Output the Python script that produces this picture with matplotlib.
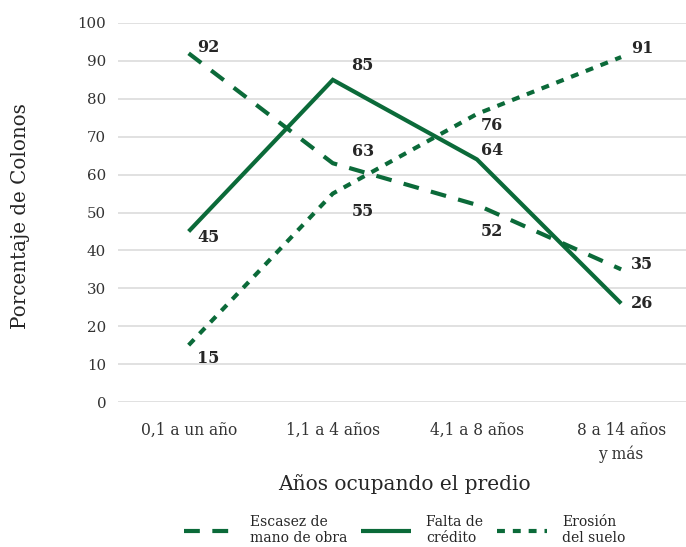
import matplotlib
matplotlib.use("Agg")
import matplotlib.pyplot as plt

# Data
categories = ["0,1 a un año", "1,1 a 4 años", "4,1 a 8 años", "8 a 14 años\ny más"]
escasez = [92, 63, 52, 35]
falta_credito = [45, 85, 64, 26]
erosion = [15, 55, 76, 91]
series_names = ["Escasez de\nmano de obra", "Falta de\ncrédito", "Erosión\ndel suelo"]
y_ticks = [0, 10, 20, 30, 40, 50, 60, 70, 80, 90, 100]

GREEN = "#0b6a39"
TEXT = "#262626"
FONT = "DejaVu Serif"

plt.rcParams["font.family"] = FONT

fig = plt.figure(figsize=(6.86, 5.47), dpi=100)
ax = fig.add_axes([118 / 686, 1 - 402 / 547, (686 - 118) / 686, (402 - 23) / 547])

x = list(range(len(categories)))
lw = 3.0
l1, = ax.plot(x, escasez, color=GREEN, lw=lw, dashes=(3.8, 3.0),
              dash_capstyle="butt", solid_joinstyle="miter", label=series_names[0])
l2, = ax.plot(x, falta_credito, color=GREEN, lw=lw, solid_capstyle="butt",
              solid_joinstyle="miter", label=series_names[1])
l3, = ax.plot(x, erosion, color=GREEN, lw=lw, dashes=(1.9, 1.9),
              dash_capstyle="butt", label=series_names[2])

# Data labels (offsets in pixels from each point)
offsets = {
    "esc": [(20, 6), (30, 12), (15, -27), (21, 5)],
    "fal": [(20, -6), (30, 14), (15, 9), (21, 0)],
    "ero": [(20, -13), (30, -18), (15, -12), (21, 9)],
}
for key, vals in (("esc", escasez), ("fal", falta_credito), ("ero", erosion)):
    for i, v in enumerate(vals):
        dx, dy = offsets[key][i]
        ax.annotate(str(v), (i, v), xytext=(dx, dy), textcoords="offset pixels",
                    ha="center", va="center", fontsize=11.5, fontweight="bold",
                    color=TEXT)

ax.set_xlim(-0.49, 3.45)
ax.set_ylim(0, 100)
ax.set_yticks(y_ticks)
ax.set_xticks(x)
ax.set_xticklabels(categories, linespacing=1.45)
ax.tick_params(axis="both", length=0, labelsize=11.2, labelcolor="#333333")
ax.tick_params(axis="y", labelsize=10.8, pad=8.5)
ax.tick_params(axis="x", pad=14.5)
for lab in ax.get_xticklabels():
    lab.set_multialignment("center")

ax.grid(axis="y", color="#d9d9d9", lw=1.1)
ax.set_axisbelow(True)
for s in ax.spines.values():
    s.set_visible(False)

fig.text(21 / 686, 1 - 216 / 547, "Porcentaje de Colonos", rotation=90,
         ha="center", va="center", fontsize=14.3, color=TEXT)
fig.text(404 / 686, 1 - 484 / 547, "Años ocupando el predio",
         ha="center", va="center", fontsize=14.5, color=TEXT)

leg = fig.legend(handles=[l1, l2, l3], loc="center",
                 bbox_to_anchor=(405 / 686, 1 - 530 / 547), ncol=3, frameon=False,
                 fontsize=10, handlelength=3.6, handletextpad=1.1, columnspacing=1.0,
                 borderpad=0.1)
for t in leg.get_texts():
    t.set_color(TEXT)
    t.set_linespacing(1.2)

fig.savefig("out.png", dpi=100)
